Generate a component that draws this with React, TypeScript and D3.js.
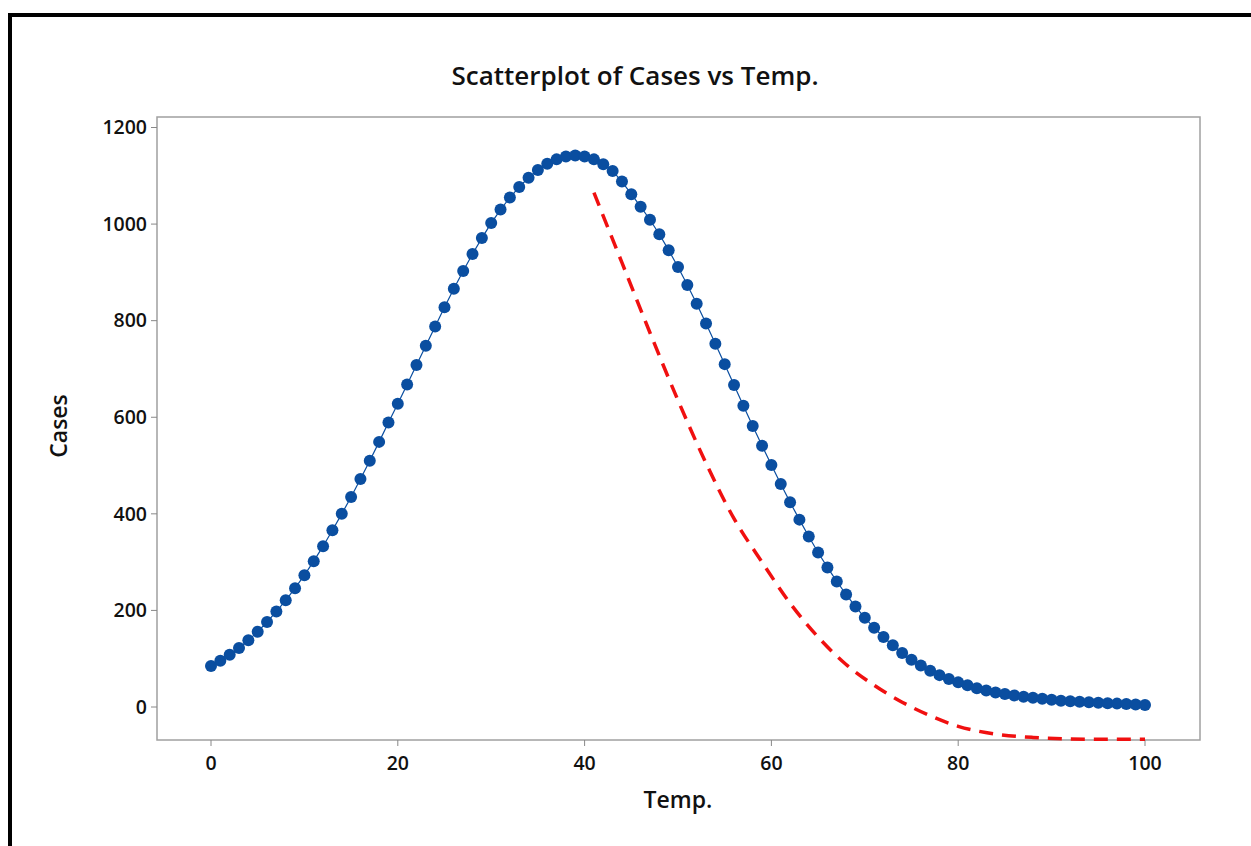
import React from "react";
import * as d3 from "d3";

const temps = d3.range(0, 101);
const cases = [
  85, 96, 108, 122, 138, 156, 176, 198, 221, 246, 273, 302, 333, 366, 400, 435, 472, 510, 549, 589,
  628, 668, 708, 748, 788, 828, 866, 903, 938, 971, 1002, 1030, 1055, 1077, 1096, 1112, 1125, 1134, 1140, 1142,
  1140, 1134, 1124, 1110, 1088, 1062, 1036, 1009, 979, 946, 911, 874, 835, 794, 752, 710, 667, 624, 582, 541,
  501, 462, 424, 388, 353, 320, 289, 260, 233, 208, 185, 164, 145, 128, 112, 98, 86, 75, 66, 58,
  51, 45, 39, 34, 30, 27, 24, 21, 19, 17, 15, 13, 12, 11, 10, 9, 8, 7, 6, 5, 4,
];
const fitTemps = [41, 44, 47, 50, 53, 56, 59, 62, 65, 68, 71, 74, 77, 80, 84, 88, 92, 96, 100];
const fitCases = [1065, 920, 775, 635, 505, 390, 300, 215, 145, 88, 45, 10, -18, -40, -56, -63, -66, -67, -67];
const xTicks = [0, 20, 40, 60, 80, 100];
const yTicks = [0, 200, 400, 600, 800, 1000, 1200];

const box = { left: 157, right: 1200, top: 117, bottom: 740 };
const font = "'Open Sans', 'Noto Sans', sans-serif";

export default function App() {
  const x = d3.scaleLinear().domain([0, 100]).range([211, 1145]);
  const y = d3.scaleLinear().domain([0, 1200]).range([707, 127.5]);
  const line = d3.line<number>().x((_, i) => x(temps[i])).y((d) => y(d));
  const fit = d3
    .line<number>()
    .x((_, i) => x(fitTemps[i]))
    .y((d) => y(d))
    .curve(d3.curveMonotoneX);

  return (
    <svg width={1251} height={846} style={{ position: "absolute", left: 0, top: 0 }}>
      <rect width={1251} height={846} fill="#fff" />
      <line x1={10} x2={1251} y1={15} y2={15} stroke="#000" strokeWidth={4} />
      <line x1={10} x2={10} y1={13} y2={846} stroke="#000" strokeWidth={4} />
      <text x={635} y={85} textAnchor="middle" fontFamily={font} fontWeight={600} fontSize={26} fill="#111">
        Scatterplot of Cases vs Temp.
      </text>
      <rect
        x={box.left}
        y={box.top}
        width={box.right - box.left}
        height={box.bottom - box.top}
        fill="none"
        stroke="#a0a0a0"
        strokeWidth={1.5}
      />
      {yTicks.map((t) => (
        <g key={t}>
          <line x1={box.left - 6} x2={box.left} y1={y(t)} y2={y(t)} stroke="#888" />
          <text x={box.left - 10} y={y(t)} dy="0.35em" textAnchor="end" fontFamily={font} fontWeight={600} fontSize={19.5} fill="#111">
            {t}
          </text>
        </g>
      ))}
      {xTicks.map((t) => (
        <g key={t}>
          <line x1={x(t)} x2={x(t)} y1={box.bottom} y2={box.bottom + 6} stroke="#888" />
          <text x={x(t)} y={box.bottom + 30} textAnchor="middle" fontFamily={font} fontWeight={600} fontSize={19.5} fill="#111">
            {t}
          </text>
        </g>
      ))}
      <text x={678} y={808} textAnchor="middle" fontFamily={font} fontWeight={600} fontSize={23} fill="#111">
        Temp.
      </text>
      <text transform="translate(67,426) rotate(-90)" textAnchor="middle" fontFamily={font} fontWeight={600} fontSize={23} fill="#111">
        Cases
      </text>
      <path d={line(cases) ?? ""} fill="none" stroke="#0a4ea0" strokeWidth={1.2} />
      {cases.map((c, i) => (
        <circle key={i} cx={x(temps[i])} cy={y(c)} r={6} fill="#0a4ea0" />
      ))}
      <path d={fit(fitCases) ?? ""} fill="none" stroke="#f01010" strokeWidth={3.5} strokeDasharray="14 9" />
    </svg>
  );
}
